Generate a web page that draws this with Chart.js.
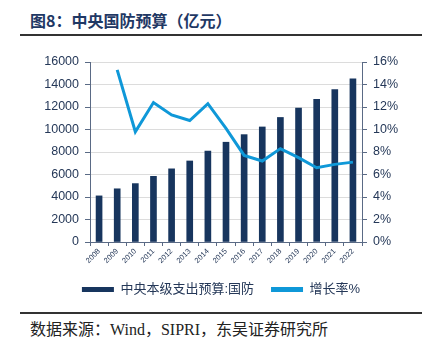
<!DOCTYPE html>
<html><head><meta charset="utf-8">
<script src="https://cdn.jsdelivr.net/npm/chart.js@4.4.0/dist/chart.umd.min.js"></script>
<style>
html,body{margin:0;padding:0;background:#fff;}
body{width:433px;height:347px;position:relative;overflow:hidden;}
#title{position:absolute;left:30px;top:8px;font:bold 16px "Noto Sans CJK SC",sans-serif;color:#1f3864;white-space:nowrap;}
#topline{position:absolute;left:20px;top:34px;width:402px;height:2px;background:#333;}
#botline{position:absolute;left:20px;top:312px;width:402px;height:2px;background:#333;}
#source{position:absolute;left:30px;top:316px;font:16px "Liberation Serif","Noto Sans CJK SC",serif;color:#222;white-space:nowrap;}
#wrap{position:absolute;left:20px;top:38px;width:402px;height:268px;}
</style></head>
<body>
<div id="title">图8：中央国防预算（亿元）</div>
<div id="topline"></div>
<div id="wrap"><canvas id="c"></canvas></div>
<div id="botline"></div>
<div id="source">数据来源：Wind，SIPRI，东吴证券研究所</div>
<script>
const years = ['2008','2009','2010','2011','2012','2013','2014','2015','2016','2017','2018','2019','2020','2021','2022'];
const budget = [4099, 4729, 5191, 5836, 6503, 7202, 8082, 8869, 9544, 10226, 11070, 11899, 12680, 13553, 14505];
const growth = [null, 15.3, 9.8, 12.4, 11.3, 10.8, 12.3, 10.1, 7.7, 7.2, 8.3, 7.5, 6.6, 6.9, 7.1];
const leftTicks = [0,2000,4000,6000,8000,10000,12000,14000,16000];
const rightTicks = [0,2,4,6,8,10,12,14,16];
const seriesNames = ['中央本级支出预算:国防','增长率%'];

const navy = '#17355e';
const blue = '#0f98d8';
const txt = '#253858';
const axisCol = '#5a6a85';

new Chart(document.getElementById('c'), {
  data: {
    labels: years,
    datasets: [
      {type:'bar', label:seriesNames[0], data:budget, backgroundColor:navy, borderWidth:0, barThickness:6, yAxisID:'y', order:2},
      {type:'line', label:seriesNames[1], data:growth, borderColor:blue, backgroundColor:blue, borderWidth:3, pointRadius:0, tension:0, yAxisID:'y1', order:1, spanGaps:false}
    ]
  },
  options: {
    responsive:true, maintainAspectRatio:false, animation:false,
    layout:{padding:{top:24,left:0,right:0,bottom:0}},
    plugins:{
      tooltip:{enabled:false},
      legend:{
        position:'bottom',
        labels:{
          boxWidth:32, boxHeight:5, padding:17, color:txt,
          font:{family:'"Liberation Sans","Noto Sans CJK SC",sans-serif', size:13},
          generateLabels:(chart)=>chart.data.datasets.map((d,i)=>({
            text:d.label, fillStyle:i===0?navy:blue, strokeStyle:i===0?navy:blue, lineWidth:0, datasetIndex:i, fontColor:txt
          }))
        }
      }
    },
    scales:{
      x:{
        offset:true,
        grid:{display:true, drawOnChartArea:false, tickLength:4, tickColor:axisCol, offset:true},
        border:{color:axisCol, width:1},
        ticks:{color:txt, font:{family:'"Liberation Sans",sans-serif', size:7.5}, minRotation:45, maxRotation:45, padding:1},
        afterFit:(s)=>{s.height=24;}
      },
      y:{
        position:'left', min:0, max:16000,
        afterBuildTicks:(s)=>{s.ticks=leftTicks.map(v=>({value:v}));},
        grid:{color:'#dcdcdc', lineWidth:1, tickLength:5, tickColor:axisCol},
        border:{color:axisCol, width:1},
        ticks:{color:txt, font:{family:'"Liberation Sans",sans-serif', size:12.5}, padding:6, callback:(v)=>String(v)},
        afterFit:(s)=>{s.width=70;}
      },
      y1:{
        position:'right', min:0, max:16,
        afterBuildTicks:(s)=>{s.ticks=rightTicks.map(v=>({value:v}));},
        grid:{drawOnChartArea:false, tickLength:5, tickColor:axisCol},
        border:{color:axisCol, width:1},
        ticks:{color:txt, font:{family:'"Liberation Sans",sans-serif', size:12.5}, padding:6, callback:(v)=>v+'%'},
        afterFit:(s)=>{s.width=60;}
      }
    }
  }
});
</script>
</body></html>
